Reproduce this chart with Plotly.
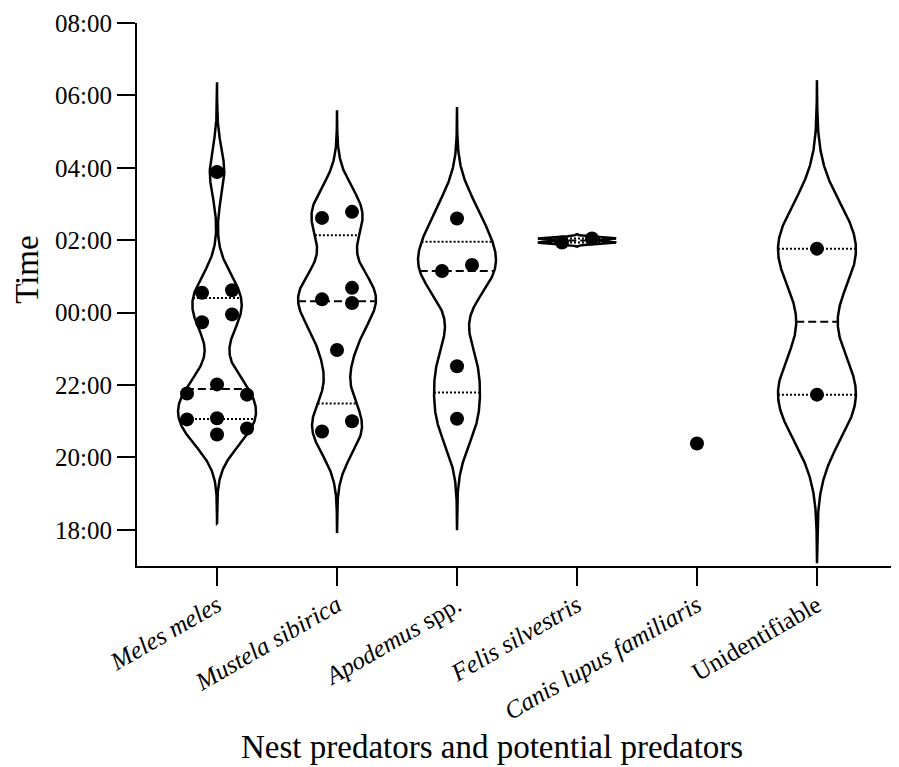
import numpy as np
import plotly.graph_objects as go

# ---------------- data ----------------
categories = ["Meles meles", "Mustela sibirica", "Apodemus spp.",
              "Felis silvestris", "Canis lupus familiaris", "Unidentifiable"]
tick_labels = ["<i>Meles meles</i>", "<i>Mustela sibirica</i>", "<i>Apodemus</i> spp.",
               "<i>Felis silvestris</i>", "<i>Canis lupus familiaris</i>", "Unidentifiable"]

meles_meles = ["03:53", "00:37", "00:33", "23:57", "23:44", "22:01",
               "21:46", "21:44", "21:05", "21:03", "20:48", "20:38"]
mustela_sibirica = ["02:47", "02:37", "00:41", "00:22", "00:16", "22:58", "21:00", "20:43"]
apodemus_spp = ["02:36", "01:19", "01:09", "22:31", "21:04"]
felis_silvestris = ["02:03", "01:56"]
canis_lupus_familiaris = ["20:23"]
unidentifiable = ["01:46", "21:44"]

y_tick_hours = [18, 20, 22, 24, 26, 28, 30, 32]
y_tick_labels = ["18:00", "20:00", "22:00", "00:00", "02:00", "04:00", "06:00", "08:00"]

x_title = "Nest predators and potential predators"
y_title = "Time"

groups = [meles_meles, mustela_sibirica, apodemus_spp,
          felis_silvestris, canis_lupus_familiaris, unidentifiable]

# ---------------- helpers ----------------
def to_hours(t):
    h, m = map(int, t.split(":"))
    v = h + m / 60.0
    return v + 24 if v < 12 else v   # night continues past midnight


HALF_WIDTH = 0.325      # max violin half width (category units)
SPACING = 0.25          # horizontal spacing of dots (category units)
ROW_DY = 0.373          # vertical closeness (hours) that forces dots side by side
BW_ADJUST = 0.5
CUT = 3.75


def kde(vals, grid, bw):
    z = (grid[:, None] - vals[None, :]) / bw
    return np.exp(-0.5 * z ** 2).sum(axis=1)


def swarm(vals):
    n = len(vals)
    off = np.zeros(n)
    if n == 0:
        return off
    order = np.argsort(-vals, kind="stable")
    cands = [0.0]
    for m in range(1, 10):
        cands += [-m * SPACING, m * SPACING]
    placed = []
    for i in order:
        near = [j for j in placed if abs(vals[j] - vals[i]) < ROW_DY]
        for c in cands:
            if all(abs(c - off[j]) >= SPACING - 1e-9 for j in near):
                off[i] = c
                break
        placed.append(i)
    chains, cur = [], [order[0]]
    for a, b in zip(order[:-1], order[1:]):
        if vals[a] - vals[b] < ROW_DY:
            cur.append(b)
        else:
            chains.append(cur)
            cur = [b]
    chains.append(cur)
    for g in chains:
        g = np.array(g)
        off[g] -= (off[g].max() + off[g].min()) / 2
    return off


fig = go.Figure()
LINE = "black"

for ci, times in enumerate(groups):
    vals = np.array([to_hours(t) for t in times])
    n = len(vals)
    if n >= 2:
        bw = BW_ADJUST * np.std(vals, ddof=1) * n ** (-0.2)
        grid = np.linspace(vals.min() - CUT * bw, vals.max() + CUT * bw, 600)
        dens = kde(vals, grid, bw)
        peak = dens.max()
        hw = dens / peak * HALF_WIDTH
        xs = np.concatenate([ci + hw, (ci - hw)[::-1], [ci + hw[0]]])
        ys = np.concatenate([grid, grid[::-1], [grid[0]]])
        fig.add_trace(go.Scatter(x=xs, y=ys, mode="lines",
                                 line=dict(color=LINE, width=2.5),
                                 hoverinfo="skip", showlegend=False))
        q1, med, q3 = np.percentile(vals, [25, 50, 75], method="weibull")
        for q, dash in [(q1, "2px,2px"), (q3, "2px,2px"), (med, "8px,4px")]:
            w = kde(vals, np.array([q]), bw)[0] / peak * HALF_WIDTH
            fig.add_trace(go.Scatter(x=[ci - w, ci + w], y=[q, q], mode="lines",
                                     line=dict(color=LINE, width=2, dash=dash),
                                     hoverinfo="skip", showlegend=False))
    offs = swarm(vals)
    fig.add_trace(go.Scatter(x=ci + offs, y=vals, mode="markers",
                             marker=dict(color="black", size=14, line=dict(width=0)),
                             name=categories[ci], showlegend=False))

FONT = "Liberation Serif, Times New Roman, serif"
axis_common = dict(showline=True, linecolor="black", linewidth=2, mirror=False,
                   ticks="outside", ticklen=18, tickwidth=2, tickcolor="black",
                   showgrid=False, zeroline=False,
                   tickfont=dict(family=FONT, size=25, color="black"))

# the page body has an 8px margin, so the figure is sized to fit inside it
fig.update_layout(
    width=891, height=759,
    paper_bgcolor="white", plot_bgcolor="white",
    margin=dict(l=129, r=2, t=15, b=201),
    font=dict(family=FONT, color="black"),
    xaxis=dict(range=[-0.667, 5.667], tickmode="array",
               tickvals=list(range(len(categories))), ticktext=tick_labels,
               tickangle=-30, ticklabelstandoff=-5, **axis_common),
    yaxis=dict(range=[17, 32], tickmode="array",
               tickvals=y_tick_hours, ticktext=y_tick_labels,
               **axis_common),
    annotations=[
        dict(text=y_title, textangle=-90, xref="paper", yref="paper",
             x=-0.145, y=0.545, xanchor="center", yanchor="middle",
             showarrow=False, font=dict(family=FONT, size=33, color="black")),
        dict(text=x_title, xref="paper", yref="paper",
             x=0.467, y=-0.333, xanchor="center", yanchor="middle",
             showarrow=False, font=dict(family=FONT, size=33, color="black")),
    ],
)

fig.write_html("out.html")
